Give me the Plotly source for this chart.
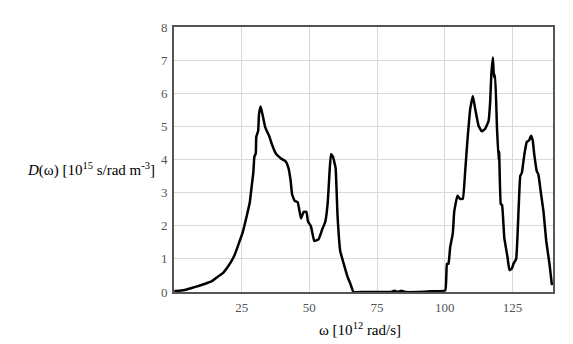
import plotly.graph_objects as go

omega = [0.1, 2.0, 4.4, 6.5, 9.3, 11.5, 13.6, 15.5, 17.9, 19.5, 21.0, 22.3, 23.4, 24.3, 25.3, 26.8, 28.0, 28.7,
         29.3, 29.7, 30.2, 30.4, 31.1, 31.4, 32.0,
         32.7, 33.7, 35.1, 36.3, 37.6, 39.4, 41.3, 42.3, 43.1, 43.6, 44.5, 45.7, 46.9, 47.9, 48.9, 49.5, 50.6,
         51.8, 53.4, 54.7, 55.9, 56.8, 57.5, 58.0, 58.7, 59.7, 60.4, 61.4, 62.7, 64.1, 65.1, 66.3,
         70.0, 80.0, 81.5, 82.5, 84.0, 85.5, 90.0, 95.0, 100.2,
         100.8, 101.4, 102.0, 103.0, 103.5, 104.7, 105.7, 106.7, 107.6, 108.4, 109.4, 110.4, 111.3, 112.5,
         113.7, 114.9, 116.2, 116.8, 117.2, 117.8, 118.2, 118.6, 119.3, 119.9, 120.1, 120.7, 121.2, 122.0,
         123.2, 123.9, 124.8, 125.4, 126.4, 127.3, 127.9, 128.5, 129.4, 130.3, 131.2, 131.9, 132.5, 133.1,
         134.0, 134.6, 135.5, 136.5, 137.5, 138.7, 139.6]
dos = [0.03, 0.04, 0.07, 0.12, 0.19, 0.25, 0.31, 0.42, 0.56, 0.72, 0.90, 1.10, 1.34, 1.55, 1.78, 2.27, 2.71, 3.20,
       3.60, 4.09, 4.18, 4.68, 4.87, 5.36, 5.60,
       5.36, 4.97, 4.72, 4.43, 4.18, 4.04, 3.94, 3.74, 3.35, 2.96, 2.76, 2.71, 2.22, 2.42, 2.42, 2.13, 1.98,
       1.54, 1.59, 1.88, 2.13, 2.71, 3.69, 4.16, 4.09, 3.74, 2.32, 1.24, 0.85, 0.46, 0.26, 0.0,
       0.0, 0.0, 0.04, 0.0, 0.04, 0.0, 0.0, 0.02, 0.05,
       0.85, 0.85, 1.34, 1.78, 2.42, 2.91, 2.81, 2.81, 3.69, 4.58, 5.51, 5.92, 5.51, 5.02,
       4.85, 4.92, 5.16, 5.75, 6.54, 7.08, 6.49, 6.54, 4.97, 3.99, 4.24, 2.66, 2.62, 1.64,
       1.05, 0.66, 0.71, 0.85, 1.00, 2.52, 3.50, 3.60, 4.14, 4.53, 4.58, 4.72, 4.58, 4.14,
       3.65, 3.55, 3.01, 2.42, 1.54, 0.85, 0.21]

x_ticks = [25, 50, 75, 100, 125]
y_ticks = [0, 1, 2, 3, 4, 5, 6, 7, 8]

SERIF = "Liberation Serif"

fig = go.Figure()
fig.add_trace(go.Scatter(x=omega, y=dos, mode="lines",
                         line=dict(color="black", width=2.5, shape="spline", smoothing=0.3),
                         hoverinfo="skip"))

# page body has an 8px default margin; the figure is sized/offset to compensate
OFF = 8
W, H = 573 - OFF, 344 - OFF
L, R, T, B = 173.5 - OFF, 20, 20.3 - OFF, 51.7
fig.update_layout(
    width=W, height=H,
    margin=dict(l=L, r=R, t=T, b=B, pad=0),
    paper_bgcolor="white", plot_bgcolor="white",
    showlegend=False,
    font=dict(family=SERIF, size=13, color="#555555"),
)
tf = dict(family=SERIF, size=13, color="#555555")
fig.update_xaxes(range=[0, 140], tickvals=x_ticks, ticks="", showgrid=True, gridcolor="#d9d9d9",
                 gridwidth=1, showline=True, linecolor="#555555", linewidth=2, mirror=True,
                 zeroline=False, tickfont=tf, ticklabelstandoff=2)
fig.update_yaxes(range=[0, 8], tickvals=y_ticks, ticks="", showgrid=True, gridcolor="#d9d9d9",
                 gridwidth=1, showline=True, linecolor="#555555", linewidth=2, mirror=True,
                 zeroline=False, tickfont=tf, ticklabelstandoff=2)

def px_x(p):
    return (p - OFF - L) / (W - L - R)

def px_y(p):
    return (H - B - (p - OFF)) / (H - T - B)

fig.add_annotation(text="<i>D</i>(ω) [10<sup>15</sup> s/rad m<sup>-3</sup>]",
                   xref="paper", yref="paper", x=px_x(156), y=px_y(167),
                   xanchor="right", yanchor="middle", showarrow=False,
                   font=dict(family=SERIF, size=15, color="black"))
fig.add_annotation(text="ω [10<sup>12</sup> rad/s]",
                   xref="paper", yref="paper", x=px_x(359.5), y=px_y(330),
                   xanchor="center", yanchor="middle", showarrow=False,
                   font=dict(family=SERIF, size=15, color="black"))

fig.write_html("out.html")
